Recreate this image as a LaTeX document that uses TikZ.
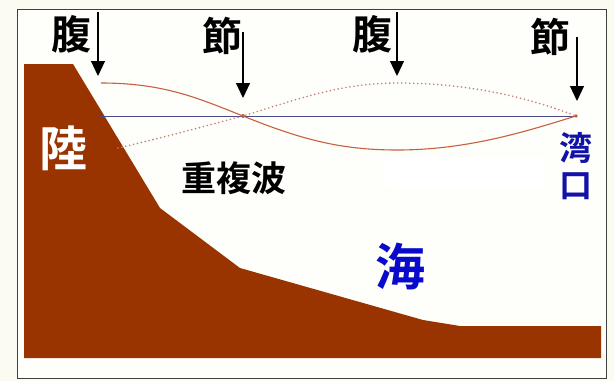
\documentclass[tikz,border=0pt]{standalone}
\usepackage{fontspec}
\newfontfamily\cjk{Noto Sans CJK JP}[BoldFont={Noto Sans CJK JP Bold}]
\usetikzlibrary{arrows.meta}
\definecolor{paper}{HTML}{FBFBF1}
\definecolor{inner}{HTML}{FEFEFA}
\definecolor{land}{HTML}{993300}
\definecolor{seablue}{HTML}{0A0ACC}
\definecolor{mouthblue}{HTML}{1212A8}
\definecolor{still}{HTML}{4A4A86}
\definecolor{wave}{HTML}{C8603F}
\definecolor{wavedot}{HTML}{C87E74}
\tikzset{
  lbl/.style={font=\cjk\bfseries, inner sep=0pt},
  pointer/.style={line width=1.1pt, -{Triangle[length=15pt,width=14pt]}},
}
\begin{document}
\begin{tikzpicture}[x=1pt,y=-1pt]
\useasboundingbox (0,0) rectangle (614,381);
% paper and frame
\fill[paper] (0,0) rectangle (614,381);
\fill[inner] (17,9) rectangle (606,378);
\draw[black!75, line width=0.9pt] (17,9) rectangle (606,378);
\fill[white] (385,157) rectangle (545,188);
% land profile
\fill[land] (24,64) -- (73,64) -- (160,208) -- (240,268) -- (423,320)
  -- (460,326) -- (601,326) -- (601,358) -- (24,358) -- cycle;
% still water level
\draw[still, line width=0.8pt] (100,116) -- (576,116);
% standing wave, two extreme positions
\draw[wavedot, line width=1.8pt, line cap=round, dash pattern=on 0pt off 4pt] (118,148) .. controls (170,136) and (205,126) .. (243,116)
  .. controls (295,100) and (340,83) .. (397,83) .. controls (470,83) and (530,98) .. (576,116);
\draw[wave, line width=1.1pt] (101,83) .. controls (165,83) and (200,99) .. (243,116)
  .. controls (300,139) and (340,150) .. (397,150) .. controls (470,150) and (530,130) .. (576,116);
\fill[wave] (243,116) circle (2pt);
\fill[wave] (576,116) circle (1.8pt);
% labels
\node[lbl, font=\cjk\bfseries\fontsize{40}{40}\selectfont] (hara1) at (72,34) {腹};
\node[lbl, font=\cjk\bfseries\fontsize{40}{40}\selectfont] (fushi1) at (222,36) {節};
\node[lbl, font=\cjk\bfseries\fontsize{40}{40}\selectfont] (hara2) at (372,34) {腹};
\node[lbl, font=\cjk\bfseries\fontsize{40}{40}\selectfont] (fushi2) at (550,37) {節};
\node[lbl, white, font=\cjk\bfseries\fontsize{48}{48}\selectfont] (riku) at (63,148) {陸};
\node[lbl, font=\cjk\bfseries\fontsize{35}{35}\selectfont] (wavename) at (234,178) {重複波};
\node[lbl, mouthblue, font=\cjk\bfseries\fontsize{33}{33}\selectfont] (wan) at (576,148) {湾};
\node[lbl, mouthblue, font=\cjk\bfseries\fontsize{33}{33}\selectfont] (kou) at (576,186) {口};
\node[lbl, seablue, font=\cjk\bfseries\fontsize{50}{50}\selectfont] (umi) at (400,266) {海};
% pointers
\coordinate (a1s) at (98,12);  \coordinate (a1e) at (98,76);
\coordinate (a2s) at (243,32); \coordinate (a2e) at (243,98);
\coordinate (a3s) at (397,12); \coordinate (a3e) at (397,76);
\coordinate (a4s) at (577,37); \coordinate (a4e) at (577,101);
\draw[pointer] (a1s) -- (a1e);
\draw[pointer] (a2s) -- (a2e);
\draw[pointer] (a3s) -- (a3e);
\draw[pointer] (a4s) -- (a4e);
\end{tikzpicture}
\end{document}
